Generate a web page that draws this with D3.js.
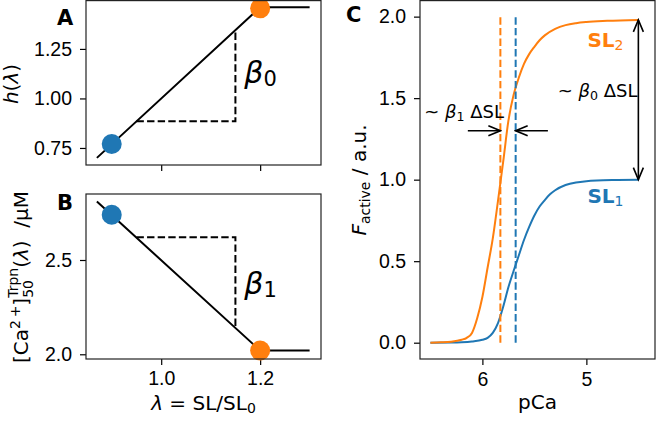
<!DOCTYPE html>
<html>
<head>
<meta charset="utf-8">
<script src="https://cdn.jsdelivr.net/npm/d3@7"></script>
<style>
    body { margin: 0; background: #fff; }
    svg { font-family: "DejaVu Sans", sans-serif; }
</style>
</head>
<body>
<svg id="chart" width="656" height="421"></svg>
<script>
// panels A and B: stretch dependence (lambda = SL/SL0)
var lambdaLine = [0.87, 1.2, 1.3];
var hLine = [0.70, 1.46, 1.46];
var ca50Line = [2.81, 2.02, 2.02];
var dotLambda = [0.9, 1.2];
var dotH = [0.77, 1.455];
var dotCa50 = [2.74, 2.02];
var triLambda = [0.95, 1.15, 1.15];
var triH = [0.885, 0.885, 1.345];
var triCa50 = [2.62, 2.62, 2.14];
var lambdaTicks = [1.0, 1.2];
var hTicks = [0.75, 1.00, 1.25];
var ca50Ticks = [2.0, 2.5];

// panel C: force-pCa curves for SL1 (blue) and SL2 (orange)
var pCa1 = [6.5, 6.3, 6.2, 6.1, 6.0, 5.95, 5.9, 5.85, 5.8, 5.75, 5.7, 5.65, 5.6, 5.55, 5.5, 5.45, 5.4, 5.35, 5.3, 5.2, 5.1, 5.0, 4.9, 4.7, 4.5];
var force1 = [0.000, 0.001, 0.003, 0.008, 0.018, 0.03, 0.06, 0.12, 0.22, 0.34, 0.44, 0.535, 0.63, 0.71, 0.78, 0.835, 0.875, 0.91, 0.935, 0.967, 0.983, 0.991, 0.995, 0.998, 1.0];
var pCa2 = [6.5, 6.4, 6.3, 6.2, 6.15, 6.1, 6.05, 6.0, 5.95, 5.9, 5.85, 5.8, 5.75, 5.7, 5.65, 5.6, 5.55, 5.5, 5.45, 5.4, 5.3, 5.2, 5.1, 5.0, 4.8, 4.5];
var force2 = [0.0, 0.002, 0.006, 0.018, 0.03, 0.06, 0.15, 0.28, 0.46, 0.64, 0.87, 1.11, 1.36, 1.52, 1.625, 1.71, 1.77, 1.815, 1.855, 1.885, 1.925, 1.948, 1.96, 1.967, 1.974, 1.98];
var pCa50 = [5.68, 5.827];
var pCaTicks = [6, 5];
var forceTicks = [0.0, 0.5, 1.0, 1.5, 2.0];
var colors = ["#1f77b4", "#ff7f0e"];

var svg = d3.select("#chart");
var FS = 19.5;   // tick labels
var LS = 20;     // axis labels
var AS = 18;     // annotations

// scales
var xL = d3.scaleLinear().domain([0.848, 1.323]).range([86, 321]);
var yA = d3.scaleLinear().domain([0.664, 1.497]).range([165, 0]);
var yB = d3.scaleLinear().domain([1.975, 2.85]).range([359, 194]);
var xC = d3.scaleLinear().domain([6.6, 4.34]).range([420, 655]);
var yC = d3.scaleLinear().domain([-0.1, 2.102]).range([359, 0]);

var defs = svg.append("defs");
defs.append("marker")
    .attr("id", "head")
    .attr("markerUnits", "userSpaceOnUse")
    .attr("viewBox", "-14 -7 16 14")
    .attr("markerWidth", 16).attr("markerHeight", 14)
    .attr("refX", 0).attr("refY", 0)
    .attr("orient", "auto-start-reverse")
    .append("path")
    .attr("d", "M-12,-5L0,0L-12,5")
    .attr("fill", "none").attr("stroke", "#000").attr("stroke-width", 1.6);

function styleAxis(g) {
    g.select(".domain").remove();
    g.selectAll(".tick line").attr("stroke", "#000").attr("stroke-width", 1.2);
    g.selectAll(".tick text").attr("fill", "#000").style("font-size", FS + "px");
}

function frame(x, y) {
    var x0 = x.range()[0], x1 = x.range()[1];
    var y0 = Math.max(y.range()[1], 0.6), y1 = y.range()[0];
    svg.append("rect")
        .attr("x", x0).attr("y", y0)
        .attr("width", x1 - x0).attr("height", y1 - y0)
        .attr("fill", "none").attr("stroke", "#222").attr("stroke-width", 1.2);
}

function pts(xs, ys) {
    return xs.map(function (d, i) { return [d, ys[i]]; });
}

// ---------- panel A ----------
svg.append("g").attr("transform", "translate(86,0)")
    .call(d3.axisLeft(yA).tickValues(hTicks).tickFormat(d3.format(".2f")).tickSize(6).tickPadding(8))
    .call(styleAxis);
svg.append("g").attr("transform", "translate(0,165)")
    .call(d3.axisBottom(xL).tickValues(lambdaTicks).tickFormat("").tickSize(6))
    .call(styleAxis);

var lineA = d3.line().x(function (d) { return xL(d[0]); }).y(function (d) { return yA(d[1]); });
svg.append("path").datum(pts(triLambda, triH)).attr("d", lineA)
    .attr("fill", "none").attr("stroke", "#000").attr("stroke-width", 2).attr("stroke-dasharray", "7.4,3.2");
svg.append("path").datum(pts(lambdaLine, hLine)).attr("d", lineA)
    .attr("fill", "none").attr("stroke", "#000").attr("stroke-width", 2);
svg.selectAll(".dotA").data(pts(dotLambda, dotH)).enter().append("circle")
    .attr("cx", function (d) { return xL(d[0]); }).attr("cy", function (d) { return yA(d[1]); })
    .attr("r", 10).attr("fill", function (d, i) { return colors[i]; });
frame(xL, yA);

// ---------- panel B ----------
svg.append("g").attr("transform", "translate(86,0)")
    .call(d3.axisLeft(yB).tickValues(ca50Ticks).tickFormat(d3.format(".1f")).tickSize(6).tickPadding(8))
    .call(styleAxis);
svg.append("g").attr("transform", "translate(0,359)")
    .call(d3.axisBottom(xL).tickValues(lambdaTicks).tickFormat(d3.format(".1f")).tickSize(6).tickPadding(6))
    .call(styleAxis);

var lineB = d3.line().x(function (d) { return xL(d[0]); }).y(function (d) { return yB(d[1]); });
svg.append("path").datum(pts(triLambda, triCa50)).attr("d", lineB)
    .attr("fill", "none").attr("stroke", "#000").attr("stroke-width", 2).attr("stroke-dasharray", "7.4,3.2");
svg.append("path").datum(pts(lambdaLine, ca50Line)).attr("d", lineB)
    .attr("fill", "none").attr("stroke", "#000").attr("stroke-width", 2);
svg.selectAll(".dotB").data(pts(dotLambda, dotCa50)).enter().append("circle")
    .attr("cx", function (d) { return xL(d[0]); }).attr("cy", function (d) { return yB(d[1]); })
    .attr("r", 10).attr("fill", function (d, i) { return colors[i]; });
frame(xL, yB);

// ---------- panel C ----------
svg.append("g").attr("transform", "translate(420,0)")
    .call(d3.axisLeft(yC).tickValues(forceTicks).tickFormat(d3.format(".1f")).tickSize(6).tickPadding(8))
    .call(styleAxis);
svg.append("g").attr("transform", "translate(0,359)")
    .call(d3.axisBottom(xC).tickValues(pCaTicks).tickFormat(d3.format("d")).tickSize(6).tickPadding(7))
    .call(styleAxis);

var lineC = d3.line().curve(d3.curveMonotoneX)
    .x(function (d) { return xC(d[0]); }).y(function (d) { return yC(d[1]); });
[pts(pCa1, force1), pts(pCa2, force2)].forEach(function (s, i) {
    svg.append("path").datum(s).attr("d", lineC)
        .attr("fill", "none").attr("stroke", colors[i]).attr("stroke-width", 2);
});
[1, 0].forEach(function (i) {
    svg.append("line")
        .attr("x1", xC(pCa50[i])).attr("x2", xC(pCa50[i]))
        .attr("y1", yC(0)).attr("y2", yC(2.0))
        .attr("stroke", colors[i]).attr("stroke-width", 2).attr("stroke-dasharray", "7.4,3.2");
});

// annotation arrows
var arrowF = 1.3;
svg.append("line")
    .attr("x1", xC(6.14)).attr("y1", yC(arrowF)).attr("x2", xC(pCa50[1])).attr("y2", yC(arrowF))
    .attr("stroke", "#000").attr("stroke-width", 1.6).attr("marker-end", "url(#head)");
svg.append("line")
    .attr("x1", xC(5.37)).attr("y1", yC(arrowF)).attr("x2", xC(pCa50[0])).attr("y2", yC(arrowF))
    .attr("stroke", "#000").attr("stroke-width", 1.6).attr("marker-end", "url(#head)");
svg.append("line")
    .attr("x1", xC(4.5)).attr("y1", yC(1.98)).attr("x2", xC(4.5)).attr("y2", yC(1.0))
    .attr("stroke", "#000").attr("stroke-width", 1.6)
    .attr("marker-start", "url(#head)").attr("marker-end", "url(#head)");
frame(xC, yC);

// ---------- text ----------
// panel letters
svg.append("text").attr("x", 57).attr("y", 25).attr("font-size", 21).attr("font-weight", "bold").text("A");
svg.append("text").attr("x", 57).attr("y", 210).attr("font-size", 21).attr("font-weight", "bold").text("B");
svg.append("text").attr("x", 346).attr("y", 22).attr("font-size", 21).attr("font-weight", "bold").text("C");

// beta labels in A and B
function betaLabel(x, y, idx) {
    var t = svg.append("text").attr("x", x).attr("y", y).attr("font-size", 30);
    t.append("tspan").attr("font-style", "italic").text("\u03b2");
    t.append("tspan").attr("font-size", 21).attr("dy", 3).text(idx);
}
betaLabel(xL(1.168), yA(1.076), "0");
betaLabel(xL(1.168), yB(2.32), "1");

// y label A
var ta = svg.append("text").attr("transform", "translate(18,84) rotate(-90)")
    .attr("text-anchor", "middle").attr("font-size", LS);
ta.append("tspan").attr("font-style", "italic").text("h");
ta.append("tspan").text("(");
ta.append("tspan").attr("font-style", "italic").text("\u03bb");
ta.append("tspan").text(")");

// y label B
var tb = svg.append("text").attr("transform", "translate(28,277) rotate(-90)")
    .attr("text-anchor", "middle").attr("font-size", LS);
tb.append("tspan").text("[Ca");
tb.append("tspan").attr("font-size", 14).attr("dy", -8).text("2\u2009+");
tb.append("tspan").attr("dy", 8).text("]");
var s50 = tb.append("tspan").attr("font-size", 14).attr("dy", 5).text("50");
var trpn = tb.append("tspan").attr("font-size", 14).attr("dy", -15).text("Trpn");
tb.append("tspan").attr("dy", 10).text("(");
tb.append("tspan").attr("font-style", "italic").text("\u03bb");
tb.append("tspan").text(")\u00a0\u00a0/\u03bcM");
trpn.attr("dx", -s50.node().getComputedTextLength());

// x label A/B
var tx = svg.append("text").attr("x", 203.5).attr("y", 410)
    .attr("text-anchor", "middle").attr("font-size", LS);
tx.append("tspan").attr("font-style", "italic").text("\u03bb");
tx.append("tspan").text(" = SL/SL");
tx.append("tspan").attr("font-size", 14).attr("dy", 3).text("0");

// y label C
var tc = svg.append("text").attr("transform", "translate(366,180) rotate(-90)")
    .attr("text-anchor", "middle").attr("font-size", LS);
tc.append("tspan").attr("font-style", "italic").text("F");
tc.append("tspan").attr("font-size", 14).attr("dy", 4).text("active");
tc.append("tspan").attr("dy", -4).text(" / a.u.");

// x label C
svg.append("text").attr("x", 537.5).attr("y", 409).attr("text-anchor", "middle")
    .attr("font-size", LS).text("pCa");

// annotations in C
function deltaLabel(x, y, idx) {
    var t = svg.append("text").attr("x", x).attr("y", y).attr("font-size", AS);
    t.append("tspan").text("~ ");
    t.append("tspan").attr("font-style", "italic").text("\u03b2");
    t.append("tspan").attr("font-size", 12.6).attr("dy", 3).text(idx);
    t.append("tspan").attr("dy", -3).text(" \u0394SL");
}
deltaLabel(xC(6.56), yC(1.38), "1");
deltaLabel(xC(5.276), yC(1.51), "0");

function slLabel(x, y, idx, color) {
    var t = svg.append("text").attr("x", x).attr("y", y).attr("font-size", 20)
        .attr("font-weight", "bold").attr("fill", color);
    t.append("tspan").text("SL");
    t.append("tspan").attr("font-size", 14).attr("font-weight", "normal").attr("dy", 3).text(idx);
}
slLabel(xC(4.99), yC(1.816), "2", colors[1]);
slLabel(xC(4.99), yC(0.855), "1", colors[0]);
</script>
</body>
</html>
